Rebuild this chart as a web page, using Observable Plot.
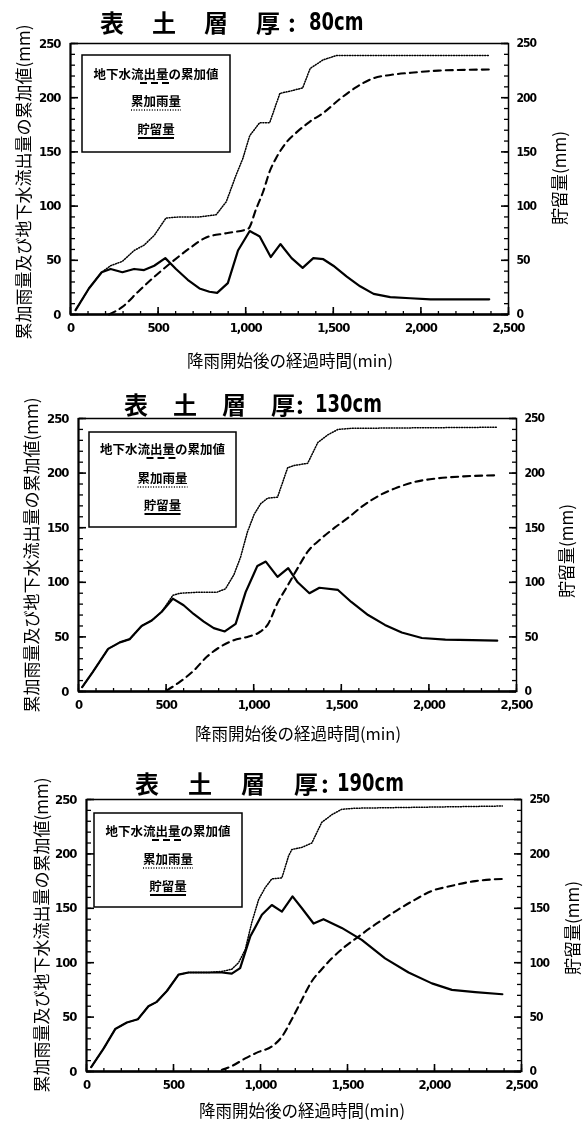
<!DOCTYPE html>
<html><head><meta charset="utf-8">
<script src="https://cdn.jsdelivr.net/npm/d3@7"></script>
<script src="https://cdn.jsdelivr.net/npm/@observablehq/plot@0.6"></script>
<style>
html,body{margin:0;padding:0;background:#fff;}
#root{position:relative;width:584px;height:1122px;overflow:hidden;background:#fff;will-change:transform;}
#root svg{position:absolute;left:0;}
</style></head><body><div id="root"></div>
<script>
// ---------- tick values and labels ----------
const xTickValues = [0, 500, 1000, 1500, 2000, 2500];
const yTickValues = [0, 50, 100, 150, 200, 250];
const xMinorTicks = d3.range(0, 2501, 100);
const yMinorTicks = d3.range(0, 251, 10);
const thicknessLabels = ["80", "130", "190"];
const legendLabels = ["地下水流出量の累加値", "累加雨量", "貯留量"];
const xTitle = "降雨開始後の経過時間(min)";
const yLeftTitle = "累加雨量及び地下水流出量の累加値(mm)";
const yRightTitle = "貯留量(mm)";

// ---------- panel 1 : 80cm ----------
const storT1 = [29,105,178,229,296,363,420,478,541,602,669,736,793,837,898,956,1023,1080,1143,1198,1262,1325,1386,1443,1500,1577,1653,1730,1825,1940,2055,2200,2390];
const storV1 = [4,24,39,42,39,42,41,45,52,42,32,24,21,20,29,59,77,72,53,65,52,43,52,51,45,35,26,19,16,15,14,14,14];
const rainT1 = [29,105,178,229,296,363,420,478,545,621,736,831,889,946,984,1023,1080,1137,1195,1252,1325,1368,1443,1520,2390];
const rainV1 = [4,24,39,45,49,59,64,73,89,90,90,92,104,129,144,165,177,177,204,206,209,227,235,239,239];
const flowT1 = [220,296,392,487,583,679,774,889,1013,1061,1099,1137,1176,1233,1290,1367,1443,1539,1634,1730,1826,1943,2100,2390];
const flowV1 = [0,7,22,36,49,61,71,75,79,98,113,132,145,159,168,178,186,199,210,218,221,223,225,226];

// ---------- panel 2 : 130cm ----------
const storT2 = [21,82,169,236,293,360,418,475,538,600,657,715,772,835,897,954,1021,1069,1136,1197,1251,1318,1375,1481,1557,1653,1749,1845,1960,2094,2250,2390];
const storV2 = [4,18,39,45,48,60,65,73,85,79,71,64,58,55,62,91,115,119,105,113,100,90,95,93,82,70,61,54,49,47.5,47,46.5];
const rainT2 = [21,82,169,236,293,360,418,475,538,580,695,791,839,887,925,964,1002,1040,1079,1136,1194,1232,1308,1366,1423,1481,1557,2390];
const rainV2 = [4,18,39,45,48,60,65,73,88,90,91,91,94,107,123,146,162,172,177,178,205,207,209,228,235,240,241,242];
const flowT2 = [504,580,657,734,810,887,964,1040,1079,1136,1194,1251,1308,1385,1462,1538,1615,1711,1807,1922,2036,2200,2390];
const flowV2 = [1,9,19,32,41,47,50,55,61,81,97,113,128,140,150,159,169,179,186,192,195,197,198];

// ---------- panel 3 : 190cm ----------
const storT3 = [27,98,165,232,295,356,404,462,529,586,701,778,835,883,941,1008,1065,1123,1184,1238,1305,1362,1467,1582,1716,1851,1985,2100,2234,2390];
const storV3 = [4,21,39,45,48,60,64,74,89,91,91,91,90,95,124,144,153,147,161,150,136,140,132,121,104,91,81,75,73,71];
const rainT3 = [27,98,165,232,295,356,404,462,529,586,701,778,835,874,912,950,989,1027,1065,1123,1161,1180,1238,1295,1352,1410,1467,1544,2390];
const rainV3 = [4,21,39,45,48,60,64,74,89,91,91,92,94,100,112,137,158,169,177,178,198,204,206,210,229,236,241,242,244];
const flowT3 = [778,835,912,989,1065,1123,1180,1238,1295,1352,1410,1487,1563,1640,1716,1793,1889,1985,2080,2234,2390];
const flowV3 = [1.5,5,12,18,23,32,48,66,83,94,104,115,124,133,141,149,158,166,170,175,177];

const series = [
  {stor:[storT1,storV1], rain:[rainT1,rainV1], flow:[flowT1,flowV1]},
  {stor:[storT2,storV2], rain:[rainT2,rainV2], flow:[flowT2,flowV2]},
  {stor:[storT3,storV3], rain:[rainT3,rainV3], flow:[flowT3,flowV3]}
];

// ---------- layout (pixels) ----------
const layouts = [
  {top:0,   height:372, mt:43, mb:58, ml:70, mr:76, titleX:100, pitch:52, colonX:292, numX:309, titleY:21,
   xTitleX:290, xTitleY:360, yTitleX:22, yTitleY:182, rTitleX:558, rTitleY:178,
   legend:{x:82, y:55, w:148, h:97, rows:[73,100,128]}},
  {top:372, height:378, mt:46, mb:59, ml:78, mr:68, titleX:124, pitch:49, colonX:300, numX:315, titleY:403,
   xTitleX:298, xTitleY:733, yTitleX:30, yTitleY:555, rTitleX:565, rTitleY:551,
   legend:{x:89, y:432, w:147, h:95, rows:[448,477,504]}},
  {top:750, height:372, mt:49, mb:51, ml:86, mr:63, titleX:135, pitch:53, colonX:325, numX:337, titleY:782,
   xTitleX:302, xTitleY:1110, yTitleX:40, yTitleY:935, rTitleX:571, rTitleY:928,
   legend:{x:94, y:813, w:148, h:94, rows:[830,858,885]}}
];

const root = document.getElementById("root");
const toRows = ([t, v]) => t.map((d, i) => ({t: d, v: v[i]}));
const blank = () => "";

layouts.forEach((L, k) => {
  const S = series[k];
  const stor = toRows(S.stor), rain = toRows(S.rain), flow = toRows(S.flow);
  const pw = 584 - L.ml - L.mr;
  const ph = L.height - L.mt - L.mb;
  const chart = Plot.plot({
    width: 584, height: L.height,
    marginTop: L.mt, marginBottom: L.mb, marginLeft: L.ml, marginRight: L.mr,
    x: {domain: [0, 2500]},
    y: {domain: [0, 250]},
    style: {background: "transparent", color: "#000",
            fontFamily: "'DejaVu Sans Condensed','DejaVu Sans',sans-serif", fontSize: "13px",
            fontWeight: "bold", letterSpacing: "-1px"},
    marks: [
      // inward ticks: bottom axis (drawn as "top" ticks shifted down to the bottom edge)
      Plot.axisX(xMinorTicks, {anchor: "top", tickSize: 4, tickFormat: blank, label: null, strokeWidth: 1.3, dy: ph}),
      Plot.axisX(xTickValues, {anchor: "top", tickSize: 8, tickFormat: blank, label: null, strokeWidth: 1.6, dy: ph}),
      Plot.axisX(xTickValues, {anchor: "bottom", tickSize: 0, tickPadding: 8, tickFormat: d3.format(","), label: null}),
      // inward ticks: left axis
      Plot.axisY(yMinorTicks, {anchor: "right", tickSize: 4, tickFormat: blank, label: null, strokeWidth: 1.3, dx: -pw}),
      Plot.axisY(yTickValues, {anchor: "right", tickSize: 7, tickFormat: blank, label: null, strokeWidth: 1.6, dx: -pw}),
      Plot.axisY(yTickValues, {anchor: "left", tickSize: 0, tickPadding: 10, label: null}),
      // inward ticks: right axis
      Plot.axisY(yMinorTicks, {anchor: "left", tickSize: 4, tickFormat: blank, label: null, strokeWidth: 1.3, dx: pw}),
      Plot.axisY(yTickValues, {anchor: "left", tickSize: 7, tickFormat: blank, label: null, strokeWidth: 1.6, dx: pw}),
      Plot.axisY(yTickValues, {anchor: "right", tickSize: 0, tickPadding: 8, label: null, fontSize: 12}),
      Plot.frame({stroke: "#000", strokeWidth: 1.5}),
      Plot.ruleY([0], {stroke: "#000", strokeWidth: 2.4}),
      Plot.ruleX([0], {stroke: "#000", strokeWidth: 2}),
      Plot.line(rain, {x: "t", y: "v", stroke: "#000", strokeWidth: 1.5, strokeDasharray: "1,1.6"}),
      Plot.line(flow, {x: "t", y: "v", stroke: "#000", strokeWidth: 2.1, strokeDasharray: "7,5", curve: "monotone-x"}),
      Plot.line(stor, {x: "t", y: "v", stroke: "#000", strokeWidth: 2.2})
    ]
  });
  chart.style.top = L.top + "px";
  root.appendChild(chart);
});

// ---------- overlay: titles, axis titles, legends ----------
const ov = d3.select(root).append("svg")
  .attr("width", 584).attr("height", 1122)
  .style("position", "absolute").style("left", "0px").style("top", "0px")
  .style("pointer-events", "none");

const jp = "'Noto Sans CJK JP','Noto Sans CJK SC',sans-serif";
const titleChars = ["表", "土", "層", "厚"];

layouts.forEach((L, k) => {
  const g = ov.append("g").attr("lang", "ja");
  // title
  titleChars.forEach((c, i) => {
    g.append("text").attr("x", L.titleX + i * L.pitch).attr("y", L.titleY)
      .attr("dominant-baseline", "central").attr("font-family", jp).attr("font-weight", "bold")
      .attr("font-size", 24).text(c);
  });
  g.append("text").attr("x", L.colonX).attr("y", L.titleY)
    .attr("text-anchor", "middle").attr("dominant-baseline", "central")
    .attr("font-family", jp).attr("font-weight", "bold").attr("font-size", 24).text(":");
  g.append("text").attr("transform", `translate(${L.numX},${L.titleY}) scale(0.8,1)`)
    .attr("dominant-baseline", "central").attr("font-family", "'DejaVu Sans Condensed','DejaVu Sans',sans-serif")
    .attr("font-weight", "bold").attr("font-size", 25).text(thicknessLabels[k] + "cm");
  // x title
  g.append("text").attr("x", L.xTitleX).attr("y", L.xTitleY)
    .attr("text-anchor", "middle").attr("dominant-baseline", "central")
    .attr("font-family", jp).attr("font-size", 16.5).text(xTitle);
  // left y title
  g.append("text").attr("transform", `translate(${L.yTitleX},${L.yTitleY}) rotate(-90)`)
    .attr("text-anchor", "middle").attr("dominant-baseline", "central")
    .attr("font-family", jp).attr("font-size", 17).text(yLeftTitle);
  // right y title
  g.append("text").attr("transform", `translate(${L.rTitleX},${L.rTitleY}) rotate(-90)`)
    .attr("text-anchor", "middle").attr("dominant-baseline", "central")
    .attr("font-family", jp).attr("font-size", 17).text(yRightTitle);
  // legend
  const lg = L.legend, cx = lg.x + lg.w / 2;
  g.append("rect").attr("x", lg.x).attr("y", lg.y).attr("width", lg.w).attr("height", lg.h)
    .attr("fill", "#fff").attr("stroke", "#000").attr("stroke-width", 1.5);
  const samples = [
    {dash: "7,4", w: 2, half: 16},
    {dash: "1,1.6", w: 1.6, half: 25},
    {dash: null, w: 2, half: 18}
  ];
  legendLabels.forEach((lab, i) => {
    const y = lg.rows[i];
    g.append("text").attr("x", cx).attr("y", y).attr("text-anchor", "middle")
      .attr("dominant-baseline", "central").attr("font-family", jp).attr("font-weight", "bold")
      .attr("font-size", 12.5).text(lab);
    const s = samples[i];
    const ln = g.append("line").attr("x1", cx - s.half).attr("x2", cx + s.half)
      .attr("y1", y + 10).attr("y2", y + 10).attr("stroke", "#000").attr("stroke-width", s.w);
    if (s.dash) ln.attr("stroke-dasharray", s.dash);
  });
});
</script>
</body></html>
